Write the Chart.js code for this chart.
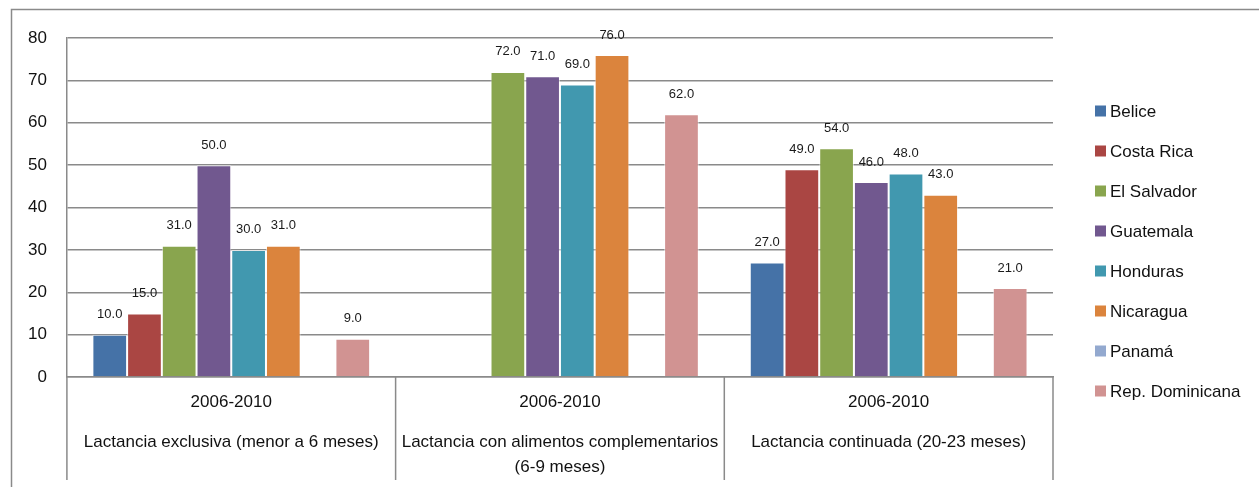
<!DOCTYPE html>
<html>
<head>
<meta charset="utf-8">
<script src="https://cdn.jsdelivr.net/npm/chart.js@4.4.0/dist/chart.umd.min.js"></script>
<style>
  html, body { margin: 0; padding: 0; background: #fff; }
  #wrap { width: 1259px; height: 487px; position: relative; }
</style>
</head>
<body>
<div id="wrap"><canvas id="chart"></canvas></div>
<script>
// ---- DATA ----
const periods = ["2006-2010", "2006-2010", "2006-2010"];
const groupNames = [
  ["Lactancia exclusiva (menor a 6 meses)"],
  ["Lactancia con alimentos complementarios", "(6-9 meses)"],
  ["Lactancia continuada (20-23 meses)"]
];
const countries = ["Belice", "Costa Rica", "El Salvador", "Guatemala", "Honduras", "Nicaragua", "Panamá", "Rep. Dominicana"];
const belice        = [10, null, 27];
const costaRica     = [15, null, 49];
const elSalvador    = [31, 72, 54];
const guatemala     = [50, 71, 46];
const honduras      = [30, 69, 48];
const nicaragua     = [31, 76, 43];
const panama        = [null, null, null];
const repDominicana = [9, 62, 21];
const yTicks = [0, 10, 20, 30, 40, 50, 60, 70, 80];

const colors = ["#4572A7", "#AA4643", "#89A54E", "#71588F", "#4198AF", "#DB843D", "#93A9CF", "#D19392"];
const seriesValues = [belice, costaRica, elSalvador, guatemala, honduras, nicaragua, panama, repDominicana];

const FONT = '"Liberation Sans", Arial, sans-serif';
const GRID = "#8a8a8a";

// ---- PLUGINS ----
const frame = {
  id: "frame",
  beforeDraw(chart) {
    const ctx = chart.ctx;
    ctx.save();
    ctx.fillStyle = "#fff";
    ctx.fillRect(0, 0, chart.width, chart.height);
    ctx.strokeStyle = GRID;
    ctx.lineWidth = 1.5;
    ctx.beginPath();
    ctx.moveTo(11.5, chart.height);
    ctx.lineTo(11.5, 9.5);
    ctx.lineTo(chart.width, 9.5);
    ctx.stroke();
    ctx.restore();
  }
};

// vertical separators under the category axis, at the category edges
const separators = {
  id: "separators",
  afterDraw(chart) {
    const xs = chart.scales.x;
    const ctx = chart.ctx;
    ctx.save();
    ctx.strokeStyle = GRID;
    ctx.lineWidth = 1.5;
    ctx.beginPath();
    for (let i = 0; i <= periods.length; i++) {
      const px = xs.getPixelForValue(i - 0.5);
      ctx.moveTo(px, xs.top);
      ctx.lineTo(px, 480);
    }
    ctx.stroke();
    ctx.restore();
  }
};

const valueLabels = {
  id: "valueLabels",
  afterDatasetsDraw(chart) {
    const ctx = chart.ctx;
    ctx.save();
    ctx.font = "13px " + FONT;
    ctx.fillStyle = "#1a1a1a";
    ctx.textAlign = "center";
    ctx.textBaseline = "middle";
    chart.data.datasets.forEach((ds, i) => {
      chart.getDatasetMeta(i).data.forEach((bar, j) => {
        const v = ds.data[j];
        if (v == null) return;
        ctx.fillText(v.toFixed(1), bar.x, bar.y - 20);
      });
    });
    ctx.restore();
  }
};

const sideLegend = {
  id: "sideLegend",
  afterDraw(chart) {
    const ctx = chart.ctx;
    ctx.save();
    ctx.font = "17px " + FONT;
    ctx.textBaseline = "middle";
    ctx.textAlign = "left";
    chart.data.datasets.forEach((ds, i) => {
      const cy = 111 + i * 40;
      ctx.fillStyle = ds.backgroundColor;
      ctx.fillRect(1095, cy - 5.5, 11, 11);
      ctx.fillStyle = "#111";
      ctx.fillText(ds.label, 1110, cy + 1);
    });
    ctx.restore();
  }
};

// ---- CHART ----
const datasets = countries.map((name, i) => ({
  label: name,
  data: seriesValues[i],
  backgroundColor: colors[i],
  borderColor: "rgba(255,255,255,0.55)",
  borderWidth: 1,
  barPercentage: 1.0,
  categoryPercentage: 0.845
}));

new Chart(document.getElementById("chart"), {
  type: "bar",
  data: { labels: periods, datasets },
  options: {
    responsive: true,
    maintainAspectRatio: false,
    animation: false,
    layout: { padding: { left: 8, right: 206, top: 38, bottom: 12.5 } },
    plugins: {
      legend: { display: false },
      tooltip: { enabled: false }
    },
    scales: {
      y: {
        min: 0,
        max: 80,
        afterBuildTicks: s => { s.ticks = yTicks.map(v => ({ value: v })); },
        grid: { color: GRID, lineWidth: 1.5, drawTicks: false },
        border: { display: true, color: GRID, width: 1.5 },
        ticks: { padding: 20, color: "#111", font: { family: FONT, size: 17 } }
      },
      x: {
        offset: true,
        grid: { offset: true, drawOnChartArea: false, drawTicks: false },
        border: { display: true, color: GRID, width: 1.5 },
        ticks: { padding: 14.8, color: "#111", maxRotation: 0, autoSkip: false, font: { family: FONT, size: 17, lineHeight: 1.2 } }
      },
      x2: {
        type: "category",
        position: "bottom",
        labels: groupNames,
        offset: true,
        grid: { display: false },
        border: { display: false },
        ticks: { padding: -5.75, color: "#111", maxRotation: 0, autoSkip: false, font: { family: FONT, size: 17, lineHeight: 1.5 } }
      }
    }
  },
  plugins: [frame, separators, valueLabels, sideLegend]
});
</script>
</body>
</html>
